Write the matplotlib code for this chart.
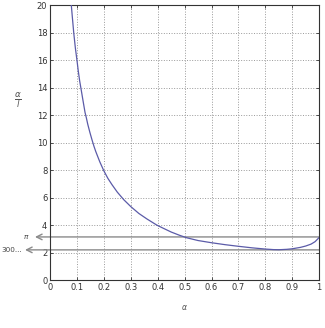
import numpy as np
import matplotlib
matplotlib.use("Agg")
import matplotlib.pyplot as plt

# values
alpha = [0.079, 0.083, 0.088, 0.094, 0.100, 0.105, 0.110, 0.117, 0.123, 0.130,
         0.135, 0.140, 0.148, 0.156, 0.163, 0.170, 0.185, 0.200, 0.215, 0.230,
         0.250, 0.274, 0.300, 0.330, 0.360, 0.397, 0.420, 0.450, 0.480, 0.508,
         0.550, 0.600, 0.650, 0.700, 0.750, 0.800, 0.830, 0.850, 0.880, 0.900,
         0.930, 0.950, 0.970, 0.985, 1.000]
ratio = [20.0, 19.1, 18.0, 16.9, 16.0, 15.2, 14.5, 13.7, 13.0, 12.2,
         11.8, 11.35, 10.75, 10.2, 9.75, 9.35, 8.6, 7.95, 7.4, 6.95,
         6.4, 5.85, 5.35, 4.85, 4.45, 4.0, 3.78, 3.5, 3.27, 3.08,
         2.88, 2.72, 2.58, 2.46, 2.35, 2.26, 2.22, 2.21, 2.24, 2.28,
         2.38, 2.48, 2.62, 2.8, 3.1]
ref_levels = [np.pi, 2.2]
ref_labels = [r"$\pi$", "300..."]
xticks = [0, 0.1, 0.2, 0.3, 0.4, 0.5, 0.6, 0.7, 0.8, 0.9, 1]
yticks = [0, 2, 4, 6, 8, 10, 12, 14, 16, 18, 20]

fig = plt.figure(figsize=(3.25, 3.28), dpi=100)
ax = fig.add_axes([0.154, 0.146, 0.828, 0.838])

ax.plot(alpha, ratio, color="#5b5ba8", linewidth=0.9, zorder=3)

# reference levels with arrows pointing out of the left edge
arrow_x = [-0.056, -0.093]
label_x = [-0.075, -0.105]
for lvl, lab, ax_x, lx in zip(ref_levels, ref_labels, arrow_x, label_x):
    ax.annotate("", xy=(ax_x, lvl), xytext=(1.0, lvl),
                arrowprops=dict(arrowstyle="->", color="#8a8a8a", lw=1.0,
                                shrinkA=0, shrinkB=0),
                annotation_clip=False, zorder=2)
    ax.text(lx, lvl, lab, ha="right", va="center", fontsize=5.2,
            color="#444444", clip_on=False)

ax.set_xlim(0, 1)
ax.set_ylim(0, 20)
ax.set_xticks(xticks)
ax.set_xticklabels(["0", "0.1", "0.2", "0.3", "0.4", "0.5", "0.6", "0.7", "0.8", "0.9", "1"])
ax.set_yticks(yticks)
ax.tick_params(direction="in", labelsize=6, length=2.5, width=0.6, colors="#333333",
               top=True, right=True, pad=2)
ax.grid(True, linestyle=":", color="#999999", linewidth=0.7)
for s in ax.spines.values():
    s.set_linewidth(0.8)
    s.set_color("#333333")

ax.set_xlabel(r"$\alpha$", fontsize=5.5, color="#555555", labelpad=8)
ax.set_ylabel(r"$\frac{\alpha}{l}$", fontsize=9, color="#555555", rotation=0,
              va="center")
ax.yaxis.set_label_coords(-0.12, 0.65)

fig.savefig("out.png", dpi=100)
